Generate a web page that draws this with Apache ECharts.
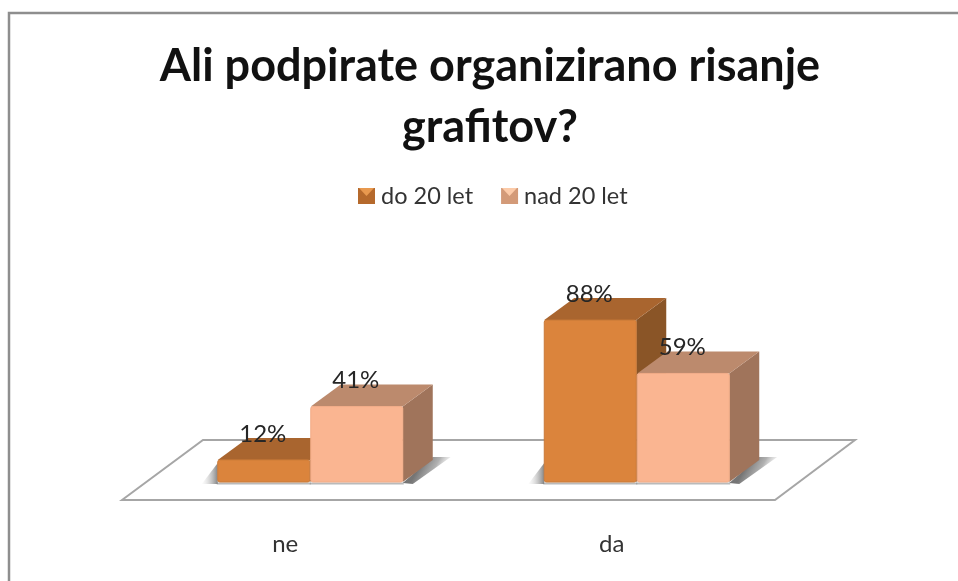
<!DOCTYPE html>
<html>
<head>
<meta charset="utf-8">
<style>html,body{margin:0;padding:0;background:#fff}#c{width:958px;height:581px}</style>
<script src="https://cdn.jsdelivr.net/npm/echarts@6/dist/echarts.min.js"></script>
</head>
<body>
<div id="c"></div>
<script>
const titleText = 'Ali podpirate organizirano risanje\ngrafitov?';
const categories = ['ne', 'da'];
const seriesNames = ['do 20 let', 'nad 20 let'];
const under20 = [12, 88];
const over20 = [41, 59];

const FONT = 'Lato, "Noto Sans", sans-serif';
const DEPTH_X = 30, DEPTH_Y = 22;
const BAR_W = 92 / 326.5, BAR_OFF = 46.5 / 326.5;
const palette = [
  {front:'#DB843C', edge:'#C97A38', top:'#A9652F', side:'#8A5527'},
  {front:'#FAB591', edge:'#F2AC87', top:'#BC8A6D', side:'#A0745B'}
];

function cuboid(seriesIndex) {
  return function (params, api) {
    const band = api.size([1, 0])[0];
    const base = api.coord([api.value(0), 0]);
    const topPt = api.coord([api.value(0), api.value(1)]);
    const w = band * BAR_W;
    const cx = base[0] + (seriesIndex === 0 ? -1 : 1) * band * BAR_OFF;
    const x0 = cx - w / 2, x1 = cx + w / 2, y0 = base[1], y1 = topPt[1];
    const c = palette[seriesIndex];
    const kids = [];
    if (seriesIndex === 1) {
      kids.push({type:'polygon', shape:{points:[[x1,y0+1],[x1+DEPTH_X,y0-25],[x1+48,y0-25],[x1+10,y0+2]]},
        style:{fill:{type:'linear',x:0.35,y:0.35,x2:0.85,y2:0.85,colorStops:[{offset:0,color:'rgba(110,110,110,0.95)'},{offset:0.5,color:'rgba(150,150,150,0.75)'},{offset:1,color:'rgba(220,220,220,0.05)'}]}}});
    } else {
      kids.push({type:'polygon', shape:{points:[[x0,y0-19],[x0-16,y0+2],[x0,y0+2]]},
        style:{fill:{type:'linear',x:1,y:0,x2:0,y2:0,colorStops:[{offset:0,color:'rgba(110,110,110,0.85)'},{offset:1,color:'rgba(210,210,210,0.05)'}]}}});
    }
    kids.push({type:'line', shape:{x1:x0-1,y1:y0+1.5,x2:x1+1,y2:y0+1.5}, style:{stroke:'rgba(130,130,130,0.55)',lineWidth:2}});
    kids.push({type:'polygon', shape:{points:[[x1,y1],[x1+DEPTH_X,y1-DEPTH_Y],[x1+DEPTH_X,y0-DEPTH_Y],[x1,y0]]}, style:{fill:c.side}});
    kids.push({type:'polygon', shape:{points:[[x0,y1],[x0+DEPTH_X,y1-DEPTH_Y],[x1+DEPTH_X,y1-DEPTH_Y],[x1,y1]]}, style:{fill:c.top}});
    kids.push({type:'rect', shape:{x:x0,y:y1,width:w,height:y0-y1,r:2}, style:{fill:c.front,stroke:c.edge,lineWidth:1}});
    kids.push({type:'text', z2:10, style:{x:cx-1,y:y1-26,text:api.value(1)+'%',fill:'#262626',font:'24px '+FONT,align:'center',verticalAlign:'middle'}});
    return {type:'group', children:kids};
  };
}

function floor(params) {
  const g = params.coordSys;
  const b = g.y + g.height;
  const l = g.x, r = g.x + g.width;
  return {type:'polygon', shape:{points:[[l-25,b+18],[l+56,b-42],[r+55,b-42],[r-25,b+18]]},
    style:{fill:'#fff',stroke:'#A6A6A6',lineWidth:2}};
}

const chart = echarts.init(document.getElementById('c'), null, {renderer:'canvas'});
chart.setOption({
  animation:false,
  backgroundColor:'#fff',
  title:{text:titleText,left:485,top:31,textAlign:'center',
    textStyle:{fontFamily:FONT,fontWeight:'bold',fontSize:45,lineHeight:61,color:'#111'}},
  legend:{left:353,top:179,itemWidth:17,itemHeight:16,itemGap:28,selectedMode:false,
    icon:'rect',
    data:[
      {name:seriesNames[0],itemStyle:{color:'#B5692C'}},
      {name:seriesNames[1],itemStyle:{color:'#D39A78'}}
    ],
    textStyle:{fontFamily:FONT,fontSize:23.5,color:'#333',padding:[0,0,0,1]}},
  grid:{left:147,width:653,top:298,height:184},
  xAxis:{type:'category',data:categories,axisLine:{show:false},axisTick:{show:false},
    axisLabel:{margin:50,fontFamily:FONT,fontSize:24,color:'#333',padding:[0,50,0,0]}},
  yAxis:{type:'value',min:0,max:100,show:false},
  series:[
    {type:'custom',name:'floor',silent:true,z:1,data:[[0,0]],renderItem:floor,clip:false},
    {type:'custom',name:seriesNames[0],z:2,silent:true,renderItem:cuboid(0),encode:{x:0,y:1},
      data:under20.map((v,i)=>[i,v]),itemStyle:{color:palette[0].front}},
    {type:'custom',name:seriesNames[1],z:3,silent:true,renderItem:cuboid(1),encode:{x:0,y:1},
      data:over20.map((v,i)=>[i,v]),itemStyle:{color:palette[1].front}}
  ],
  graphic:[
    {type:'rect',z:0,silent:true,shape:{x:9,y:13,width:970,height:590},style:{fill:'none',stroke:'#8E8E8E',lineWidth:2.5}},
    {type:'polygon',z:100,silent:true,shape:{points:[[359,188],[374,188],[366.5,196]]},style:{fill:'#E8994F'}},
    {type:'polygon',z:100,silent:true,shape:{points:[[502,188],[517,188],[509.5,196]]},style:{fill:'#FCCBA9'}}
  ]
});
</script>
</body>
</html>
